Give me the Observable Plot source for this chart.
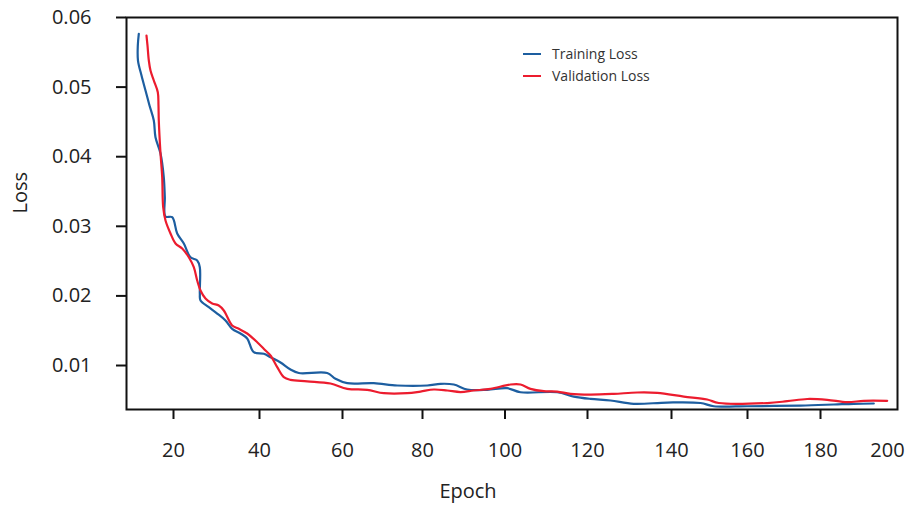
<!DOCTYPE html>
<html>
<head>
<meta charset="utf-8">
<script src="https://cdn.jsdelivr.net/npm/d3@7"></script>
<script src="https://cdn.jsdelivr.net/npm/@observablehq/plot@0.6"></script>
<style>
  html, body { margin: 0; padding: 0; background: #fff; }
  #wrap { position: relative; width: 914px; height: 507px; font-family: "Open Sans", sans-serif; }
  #legend { position: absolute; left: 523px; top: 43px; font-size: 14px; color: #333; line-height: 22px; }
  #legend .row { display: flex; align-items: center; }
  #legend .sw { width: 18px; height: 0; border-top: 2.5px solid; margin-right: 11px; }
</style>
</head>
<body>
<div id="wrap"><div id="legend"></div></div>
<script>
// Tick labels
const xTicks = [20, 40, 60, 80, 100, 120, 140, 160, 180];
const xTickPos = [173, 259, 342, 422, 504.5, 587, 671, 747, 820];
const yTicks = [0.01, 0.02, 0.03, 0.04, 0.05, 0.06];

// Training loss (epoch, loss)
const trainEpoch = [11.93, 11.70, 11.74, 12.56, 13.49, 14.42, 15.42, 15.81, 16.98, 17.74, 17.98, 18.14, 19.70, 20.86, 22.40, 23.95, 25.51, 26.12, 26.12, 26.28, 28.21, 30.16, 32.09, 33.65, 35.58, 37.14, 38.67, 41.04, 42.65, 45.06, 47.47, 49.47, 56.31, 58.31, 61.18, 67.83, 73.68, 81.14, 84.36, 87.59, 90.84, 95.68, 100.53, 103.76, 112.65, 116.68, 120.71, 125.48, 131.02, 138.98, 147.63, 151.13, 159.92, 174.52, 183.64, 189.12, 194.60];
const trainLoss = [0.05766, 0.05598, 0.05382, 0.05167, 0.04951, 0.04736, 0.04520, 0.04280, 0.04046, 0.03705, 0.03418, 0.03141, 0.03131, 0.02897, 0.02753, 0.02556, 0.02509, 0.02412, 0.02034, 0.01934, 0.01838, 0.01747, 0.01647, 0.01527, 0.01460, 0.01388, 0.01191, 0.01168, 0.01119, 0.01043, 0.00942, 0.00892, 0.00892, 0.00809, 0.00746, 0.00746, 0.00713, 0.00713, 0.00737, 0.00727, 0.00655, 0.00651, 0.00674, 0.00616, 0.00616, 0.00554, 0.00521, 0.00497, 0.00450, 0.00468, 0.00461, 0.00415, 0.00415, 0.00425, 0.00440, 0.00450, 0.00454];

// Validation loss (epoch, loss)
const valEpoch = [13.72, 13.95, 14.26, 14.65, 15.42, 16.35, 16.51, 16.58, 16.98, 17.37, 17.60, 18.14, 19.30, 20.47, 22.02, 23.56, 24.72, 25.51, 26.28, 27.44, 29.00, 30.53, 31.70, 33.65, 35.19, 37.14, 39.47, 41.45, 42.65, 44.27, 45.86, 47.47, 51.49, 57.11, 61.18, 66.18, 70.33, 76.18, 79.50, 82.74, 85.99, 89.21, 92.44, 96.48, 101.33, 103.76, 106.18, 109.41, 112.65, 115.88, 120.71, 126.26, 131.83, 136.60, 143.24, 149.39, 152.45, 165.40, 170.88, 176.36, 181.84, 187.32, 191.86, 198.27];
const valLoss = [0.05741, 0.05598, 0.05382, 0.05239, 0.05095, 0.04927, 0.04736, 0.04520, 0.04046, 0.03705, 0.03274, 0.03083, 0.02897, 0.02753, 0.02681, 0.02556, 0.02412, 0.02221, 0.02078, 0.01963, 0.01891, 0.01862, 0.01790, 0.01575, 0.01527, 0.01460, 0.01335, 0.01215, 0.01144, 0.00976, 0.00832, 0.00794, 0.00773, 0.00741, 0.00665, 0.00651, 0.00602, 0.00602, 0.00626, 0.00655, 0.00641, 0.00619, 0.00641, 0.00665, 0.00727, 0.00727, 0.00665, 0.00631, 0.00626, 0.00593, 0.00583, 0.00593, 0.00612, 0.00607, 0.00554, 0.00511, 0.00461, 0.00461, 0.00487, 0.00519, 0.00507, 0.00473, 0.00493, 0.00493];

const seriesNames = ["Training Loss", "Validation Loss"];
const seriesColors = ["#1d5ea0", "#ec1c2e"];

const train = trainEpoch.map((e, i) => ({epoch: e, loss: trainLoss[i]}));
const val = valEpoch.map((e, i) => ({epoch: e, loss: valLoss[i]}));

const chart = Plot.plot({
  width: 914,
  height: 507,
  marginLeft: 126,
  marginRight: 17,
  marginTop: 17,
  marginBottom: 98,
  style: {fontFamily: "Open Sans, sans-serif", background: "#fff", color: "#222"},
  x: {type: "linear", domain: xTicks, range: xTickPos},
  y: {domain: [0.00368, 0.06]},
  marks: [
    Plot.line(train, {x: "epoch", y: "loss", stroke: seriesColors[0], strokeWidth: 2.2, curve: "catmull-rom"}),
    Plot.line(val, {x: "epoch", y: "loss", stroke: seriesColors[1], strokeWidth: 2.2, curve: "catmull-rom"}),
    Plot.frame({stroke: "#111", strokeWidth: 2}),
    Plot.axisY({ticks: yTicks, tickFormat: d => d.toFixed(2), tickSize: 10, tickPadding: 25, fontSize: 20, label: null, stroke: "#111", strokeWidth: 2}),
    Plot.axisX({ticks: xTicks, tickFormat: d => String(d), tickSize: 10, tickPadding: 23, fontSize: 20, label: null, stroke: "#111", strokeWidth: 2}),
    Plot.axisX({ticks: [200], tickFormat: d => String(d), tickSize: 0, tickPadding: 33, fontSize: 20, dx: -6, label: null}),
    Plot.text(["Loss"], {frameAnchor: "left", rotate: -90, dx: -106, fontSize: 20, fill: "#222"}),
    Plot.text(["Epoch"], {frameAnchor: "bottom", dx: -44, dy: 88, fontSize: 20, fill: "#222"})
  ]
});

const wrap = document.getElementById("wrap");
wrap.insertBefore(chart, wrap.firstChild);

const legend = document.getElementById("legend");
seriesNames.forEach((name, i) => {
  const row = document.createElement("div");
  row.className = "row";
  const sw = document.createElement("span");
  sw.className = "sw";
  sw.style.borderColor = seriesColors[i];
  const t = document.createElement("span");
  t.textContent = name;
  row.appendChild(sw);
  row.appendChild(t);
  legend.appendChild(row);
});
</script>
</body>
</html>
